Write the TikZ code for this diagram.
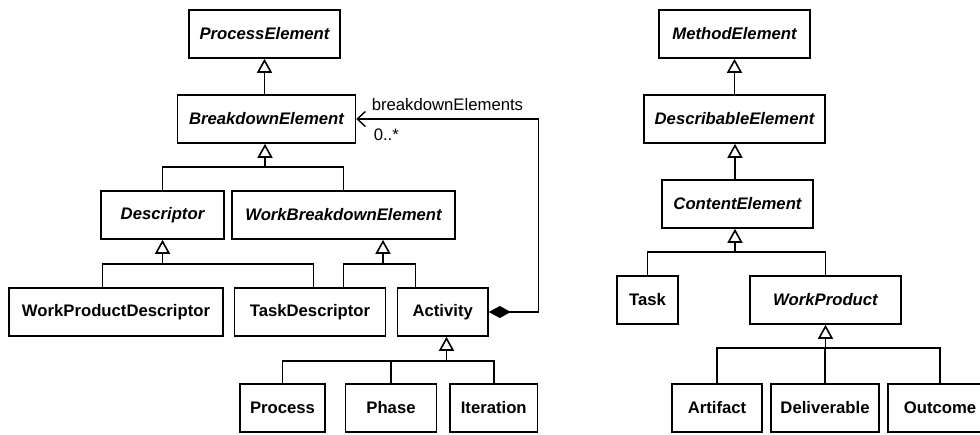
\documentclass[tikz,border=0pt]{standalone}
\usepackage{fontspec}
\setmainfont{Liberation Sans}
\usetikzlibrary{arrows.meta}
\begin{document}
\begin{tikzpicture}[x=1pt,y=-1pt,
  line width=1.6pt,
  cls/.style={draw,rectangle,inner sep=0pt,minimum height=48pt,
    font=\fontsize{16.7}{20}\selectfont\bfseries},
  abs/.style={cls,font=\fontsize{16.7}{20}\selectfont\bfseries\itshape},
  gen/.style={-{Triangle[open,length=14pt,width=15pt]}},
  lbl/.style={inner sep=0pt,font=\fontsize{16.7}{20}\selectfont},
]
\path[use as bounding box,clip] (0,0) rectangle (980,434);

% process side
\node[abs,minimum width=151pt] (pe) at (264.5,34) {ProcessElement};
\node[abs,minimum width=178pt] (be) at (266.5,119) {BreakdownElement};
\node[abs,minimum width=123pt] (desc) at (162.5,215) {Descriptor};
\node[abs,minimum width=223pt] (wbe) at (343.5,215) {WorkBreakdownElement};
\node[cls,minimum width=214pt] (wpd) at (116,312) {WorkProductDescriptor};
\node[cls,minimum width=151pt] (td) at (310,312) {TaskDescriptor};
\node[cls,minimum width=90.5pt] (act) at (442.75,312) {Activity};
\node[cls,minimum width=85pt] (proc) at (282.5,408) {Process};
\node[cls,minimum width=91pt] (phase) at (391,408) {Phase};
\node[cls,minimum width=87.5pt] (iter) at (493.75,408) {Iteration};

% method content side
\node[abs,minimum width=151pt] (me) at (734.5,34) {MethodElement};
\node[abs,minimum width=181pt] (de) at (734.5,119) {DescribableElement};
\node[abs,minimum width=151pt] (ce) at (737.5,204) {ContentElement};
\node[cls,minimum width=61pt] (task) at (647.5,300) {Task};
\node[abs,minimum width=151pt] (wp) at (825.5,300) {WorkProduct};
\node[cls,minimum width=90pt] (art) at (717,408) {Artifact};
\node[cls,minimum width=108pt] (del) at (825,408) {Deliverable};
\node[cls,minimum width=104pt] (out) at (940,408) {Outcome};

% junctions of the generalization trees
\coordinate (jb) at (265,167);
\coordinate (jd) at (162.5,264);
\coordinate (jw) at (383,264);
\coordinate (ja) at (446.5,361);
\coordinate (jc) at (735,252);
\coordinate (jp) at (825.5,348);
\coordinate (cc) at (538.6,215);

% generalizations, process side
\draw[gen] (pe.south |- be.north) -- (pe.south);
\draw (desc.north) |- (wbe.north |- jb) -- (wbe.north);
\draw[gen] (jb) -- (be.south -| jb);
\draw ([xshift=-13.5pt]wpd.north) |- ([xshift=3.6pt]td.north |- jd) -- ([xshift=3.6pt]td.north);
\draw[gen] (jd) -- (desc.south);
\draw ([xshift=33.6pt]td.north) |- ([xshift=-27.4pt]act.north |- jw) -- ([xshift=-27.4pt]act.north);
\draw[gen] (jw) -- (wbe.south -| jw);
\draw (proc.north) |- (iter.north |- ja) -- (iter.north);
\draw (phase.north) -- (phase.north |- ja);
\draw[gen] (ja) -- (act.south -| ja);

% composition
\draw[{Diamond[length=22pt,width=12pt]}-{Straight Barb[length=8pt,width=15pt]},line width=1.4pt]
  (act.east) -| (cc) |- (be.east);
\node[lbl,anchor=base west] (role) at (371,110) {breakdownElements};
\node[lbl,anchor=base west] (mult) at (373,140) {0..*};

% generalizations, method content side
\draw[gen] (me.south |- de.north) -- (me.south);
\draw[gen] (ce.north -| jc) -- (de.south -| jc);
\draw (task.north) |- (wp.north |- jc) -- (wp.north);
\draw[gen] (jc) -- (ce.south -| jc);
\draw (art.north) |- (out.north |- jp) -- (out.north);
\draw (del.north) -- (del.north |- jp);
\draw[gen] (jp) -- (wp.south -| jp);
\end{tikzpicture}
\end{document}
